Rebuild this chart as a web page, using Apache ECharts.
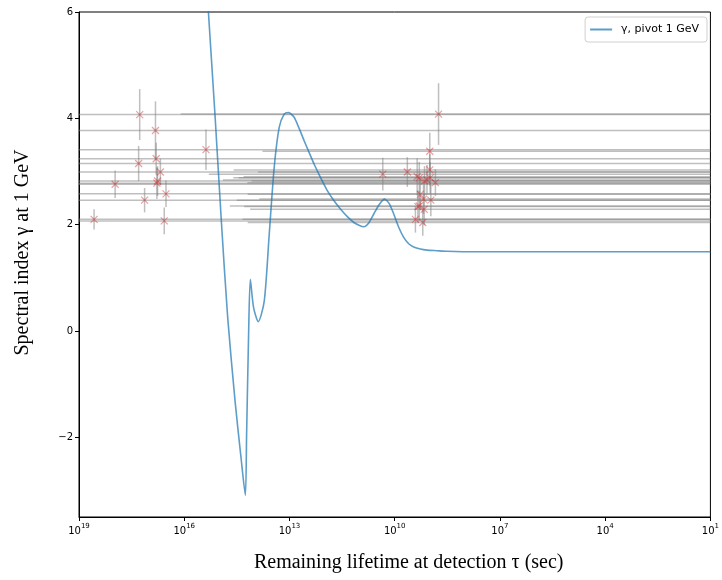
<!DOCTYPE html>
<html>
<head>
<meta charset="utf-8">
<script src="https://cdn.jsdelivr.net/npm/echarts@6/dist/echarts.min.js"></script>
<style>
  html, body { margin: 0; padding: 0; background: #fff; }
  #chart { width: 722px; height: 580px; }
</style>
</head>
<body>
<div id="chart"></div>
<script>
// Model curve: spectral index vs. remaining lifetime (log10 of tau in seconds)
const curveLogTau = [15.42, 15.309, 15.119, 14.948, 14.761, 14.551, 14.380, 14.258, 14.222, 14.165,
  14.116, 14.023, 13.889, 13.719, 13.577, 13.435, 13.293, 13.151, 13.029, 12.867,
  12.725, 12.583, 12.441, 12.299, 12.110, 11.922, 11.730, 11.541, 11.350, 11.164,
  11.020, 10.880, 10.740, 10.596, 10.440, 10.292, 10.160, 10.028, 9.886, 9.744,
  9.602, 9.460, 9.270, 9.082, 8.800, 8.514, 7.756, 5, 3, 1];
const curveGamma = [7.2, 5.98, 4.02, 2.13, 0.25, -1.32, -2.39, -3.09, -1.95, -0.06,
  0.97, 0.44, 0.175, 0.56, 1.82, 3.08, 3.83, 4.08, 4.11, 4.02,
  3.81, 3.58, 3.36, 3.14, 2.88, 2.64, 2.45, 2.29, 2.15, 2.04,
  1.99, 1.96, 2.03, 2.20, 2.38, 2.48, 2.40, 2.20, 1.95, 1.76,
  1.64, 1.58, 1.54, 1.52, 1.51, 1.50, 1.49, 1.49, 1.49, 1.49];

// Measured sources: log10 tau, spectral index, index uncertainty,
// and the log10 tau bounds of the lifetime interval
const srcLogTau = [18.57, 17.97, 17.27, 17.30, 17.13, 16.82, 16.80, 16.68, 16.76, 16.78, 16.52, 16.57, 15.38,
  10.34, 9.64, 8.75, 9.00, 9.00, 9.36, 9.30, 9.15, 9.08, 8.99, 8.84, 9.27, 9.18, 8.97, 9.34, 9.30, 9.16, 9.41, 9.20];
const srcGamma = [2.10, 2.76, 4.07, 3.15, 2.46, 3.77, 3.24, 2.99, 2.82, 2.78, 2.58, 2.07, 3.41,
  2.95, 2.99, 4.08, 3.38, 3.03, 2.90, 2.88, 2.82, 2.84, 2.88, 2.79, 2.57, 2.48, 2.46, 2.34, 2.35, 2.29, 2.10, 2.04];
const srcGammaErr = [0.19, 0.26, 0.48, 0.33, 0.23, 0.55, 0.30, 0.25, 0.28, 0.30, 0.25, 0.25, 0.38,
  0.31, 0.28, 0.58, 0.35, 0.30, 0.35, 0.30, 0.28, 0.28, 0.30, 0.25, 0.30, 0.28, 0.30, 0.30, 0.28, 0.30, 0.25, 0.25];
const srcLogTauUpper = [20, 20, 20, 20, 20, 20, 20, 20, 20, 20, 20, 20, 20,
  15.3, 13.9, 16.1, 13.77, 14.59, 14.31, 14.6, 14.08, 14.9, 14.45, 14.2, 14.19, 13.86, 14.5, 14.29, 14.7, 14.12, 14.34, 14.19];
const srcLogTauLower = srcLogTau.map(() => 0);

const yTickValues = [-2, 0, 2, 4, 6];

const pow10 = e => Math.pow(10, e);

const curveData = curveLogTau.map((e, i) => [pow10(e), curveGamma[i]]);
const pointData = srcLogTau.map((e, i) => [pow10(e), srcGamma[i]]);
const errData = srcLogTau.map((e, i) => [
  pow10(e), srcGamma[i],
  pow10(srcLogTauUpper[i]), pow10(srcLogTauLower[i]),
  srcGamma[i] - srcGammaErr[i], srcGamma[i] + srcGammaErr[i]
]);

const barStyle = { stroke: 'rgba(128,128,128,0.5)', lineWidth: 1.5 };

function renderErrorBar(params, api) {
  const cs = params.coordSys;
  const clampX = v => Math.max(cs.x, Math.min(cs.x + cs.width, v));
  const clampY = v => Math.max(cs.y, Math.min(cs.y + cs.height, v));
  const y = api.value(1);
  const x = api.value(0);
  const pL = api.coord([api.value(2), y]);
  const pR = api.coord([api.value(3), y]);
  const pB = api.coord([x, api.value(4)]);
  const pT = api.coord([x, api.value(5)]);
  return {
    type: 'group',
    children: [
      { type: 'line', shape: { x1: clampX(pL[0]), y1: pL[1], x2: clampX(pR[0]), y2: pR[1] }, style: barStyle },
      { type: 'line', shape: { x1: pB[0], y1: clampY(pB[1]), x2: pT[0], y2: clampY(pT[1]) }, style: barStyle }
    ]
  };
}

const chart = echarts.init(document.getElementById('chart'), null, { renderer: 'canvas' });

chart.setOption({
  animation: false,
  backgroundColor: '#fff',
  grid: {
    left: 79, right: 9, top: 12, bottom: 63,
    show: true, borderColor: '#000', borderWidth: 1, backgroundColor: 'transparent'
  },
  legend: {
    right: 15, top: 17,
    padding: [7, 8, 7, 5],
    borderColor: '#d0d0d0', borderWidth: 1, borderRadius: 3,
    itemWidth: 22, itemHeight: 2, icon: 'rect', itemGap: 6,
    textStyle: { fontFamily: 'DejaVu Sans', fontSize: 11, color: '#000', padding: [0, 0, 0, 4] },
    data: ['γ, pivot 1 GeV']
  },
  xAxis: {
    type: 'log', logBase: 10,
    min: 10, max: 1e19, interval: 3,
    inverse: true,
    name: 'Remaining lifetime at detection τ (sec)',
    nameLocation: 'middle', nameGap: 36,
    nameTextStyle: { fontFamily: 'Liberation Serif', fontSize: 20, color: '#000', padding: [0, 0, 0, 28] },
    axisLine: { show: true, onZero: false, lineStyle: { color: '#000', width: 1 } },
    axisTick: { show: true, inside: false, length: 4, lineStyle: { color: '#000' } },
    minorTick: { show: false },
    splitLine: { show: false },
    axisLabel: {
      margin: 6,
      formatter: v => '{b|10}{s|' + Math.round(Math.log10(v)) + '}',
      rich: {
        b: { fontFamily: 'DejaVu Sans', fontSize: 10, color: '#000', verticalAlign: 'bottom' },
        s: { fontFamily: 'DejaVu Sans', fontSize: 7, color: '#000', verticalAlign: 'bottom', padding: [0, 0, 6, 0] }
      }
    }
  },
  yAxis: {
    type: 'value', min: -3.5, max: 6,
    name: 'Spectral index γ at 1 GeV',
    nameLocation: 'middle', nameGap: 46, nameRotate: 90,
    nameTextStyle: { fontFamily: 'Liberation Serif', fontSize: 20, color: '#000', padding: [0, 0, 0, 24] },
    axisLine: { show: true, onZero: false, lineStyle: { color: '#000', width: 1 } },
    axisTick: { show: true, length: 4, customValues: yTickValues, lineStyle: { color: '#000' } },
    splitLine: { show: false },
    axisLabel: {
      customValues: yTickValues, margin: 6,
      fontFamily: 'DejaVu Sans', fontSize: 10, color: '#000',
      formatter: v => String(v).replace('-', '\u2212')
    }
  },
  series: [
    {
      name: 'errors',
      type: 'custom',
      renderItem: renderErrorBar,
      data: errData,
      encode: { x: 0, y: 1 },
      z: 1,
      silent: true
    },
    {
      name: 'sources',
      type: 'scatter',
      data: pointData,
      symbol: 'path://M0,0L10,10M10,0L0,10',
      symbolSize: 7,
      itemStyle: { color: 'transparent', borderColor: 'rgba(214,39,40,0.55)', borderWidth: 1.2 },
      z: 2,
      silent: true
    },
    {
      name: 'γ, pivot 1 GeV',
      type: 'line',
      data: curveData,
      showSymbol: false,
      smooth: 0.25,
      clip: true,
      lineStyle: { color: 'rgba(31,119,180,0.72)', width: 1.6 },
      itemStyle: { color: 'rgba(31,119,180,0.72)' },
      z: 3
    }
  ]
});
</script>
</body>
</html>
